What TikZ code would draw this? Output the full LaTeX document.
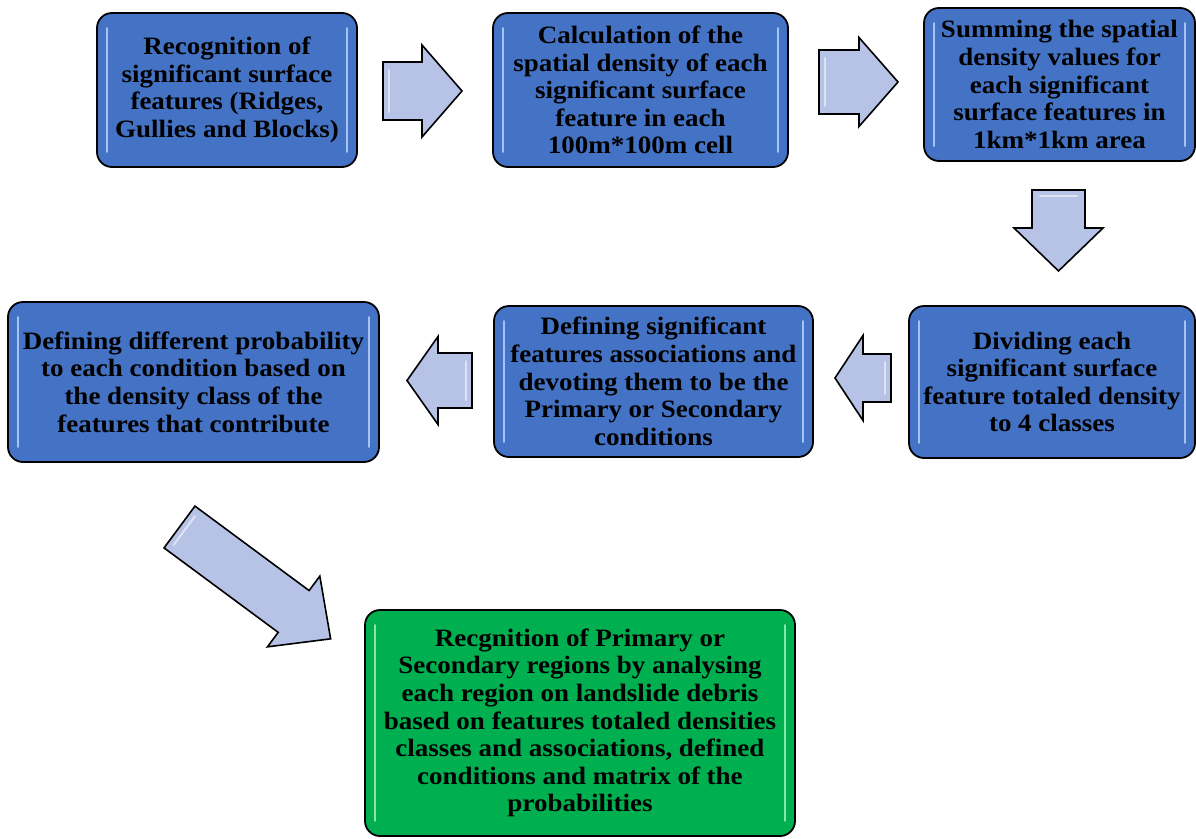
\documentclass[tikz,border=0pt]{standalone}
\usepackage{fontspec}
\setmainfont[FakeStretch=1.08]{Liberation Serif}
\usetikzlibrary{calc}
\definecolor{boxblue}{RGB}{68,114,196}
\definecolor{boxgreen}{RGB}{0,176,80}
\definecolor{arrowfill}{RGB}{182,195,230}
\definecolor{glintblue}{RGB}{190,215,255}
\definecolor{glintgreen}{RGB}{170,245,190}
\tikzset{
  stepbox/.style={draw=black, line width=1.8pt, rounded corners=15pt, fill=boxblue,
    align=center, inner sep=0pt, text=black,
    font=\fontsize{25}{27.6}\selectfont\bfseries},
  finalbox/.style={stepbox, fill=boxgreen},
  blockarrowsty/.style={draw=black, line width=1.6pt, line join=miter, fill=arrowfill},
  glintsty/.style={line width=2.2pt, line cap=round, opacity=0.8}
}
\newcommand\blockarr[7]{%
  \begin{scope}[shift={(#1,#2)},rotate=#3]
    \draw[blockarrowsty] (0,-#5) -- (#4-#7,-#5) -- (#4-#7,-#6) -- (#4,0)
      -- (#4-#7,#6) -- (#4-#7,#5) -- (0,#5) -- cycle;
    \draw[white, opacity=0.55, line width=2pt, line cap=round]
      (6,-#5+8) -- (6,#5-8);
  \end{scope}}
\newcommand\glint[2]{%
  \draw[glintsty, #2] ($(#1.north west)+(11,16)$) -- ($(#1.south west)+(11,-16)$);
  \draw[glintsty, #2] ($(#1.north east)+(-11,16)$) -- ($(#1.south east)+(-11,-16)$);}
\begin{document}
\begin{tikzpicture}[x=1pt,y=-1pt]
\useasboundingbox (0,0) rectangle (1196,838);

\node[stepbox, minimum width=260pt, minimum height=154pt] (B1) at (227,90)
  {Recognition of\\significant surface\\features (Ridges,\\Gullies and Blocks)};
\node[stepbox, minimum width=295pt, minimum height=154pt] (B2) at (640.5,90)
  {Calculation of the\\spatial density of each\\significant surface\\feature in each\\100m*100m cell};
\node[stepbox, minimum width=271pt, minimum height=153pt] (B3) at (1059.5,84.5)
  {Summing the spatial\\density values for\\each significant\\surface features in\\1km*1km area};
\node[stepbox, minimum width=286pt, minimum height=152pt] (B4) at (1052,382)
  {Dividing each\\significant surface\\feature totaled density\\to 4 classes};
\node[stepbox, minimum width=319pt, minimum height=151pt] (B5) at (653.5,381.5)
  {Defining significant\\features associations and\\devoting them to be the\\Primary or Secondary\\conditions};
\node[stepbox, minimum width=371pt, minimum height=160pt] (B6) at (193.5,382)
  {Defining different probability\\to each condition based on\\the density class of the\\features that contribute};
\node[finalbox, minimum width=430pt, minimum height=226pt] (B7) at (580,723)
  {Recgnition of Primary or\\Secondary regions by analysing\\each region on landslide debris\\based on features totaled densities\\classes and associations, defined\\conditions and matrix of the\\probabilities};

\glint{B1}{glintblue}
\glint{B2}{glintblue}
\glint{B3}{glintblue}
\glint{B4}{glintblue}
\glint{B5}{glintblue}
\glint{B6}{glintblue}
\glint{B7}{glintgreen}

\blockarr{383}{91}{0}{79}{29}{46}{40}
\blockarr{819}{82}{0}{79}{32}{44.5}{39}
\blockarr{1058.5}{190}{-90}{81}{26.5}{44.5}{43}
\blockarr{891}{378}{180}{56}{24}{42.5}{28}
\blockarr{472}{380.5}{180}{65}{27.5}{44}{31}
\blockarr{179.5}{527}{-36.5}{188}{26}{44}{46}
\end{tikzpicture}
\end{document}
